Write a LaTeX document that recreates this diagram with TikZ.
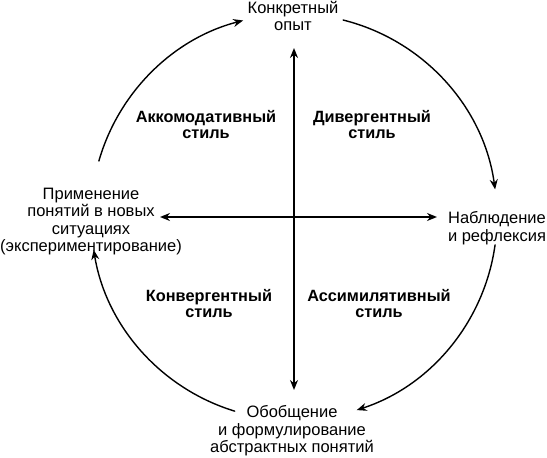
\documentclass[tikz,border=0pt]{standalone}
\usepackage{fontspec}
\setmainfont{Liberation Sans}
\usetikzlibrary{arrows.meta}
\begin{document}
\begin{tikzpicture}[x=1pt,y=1pt,line cap=round,line join=round,
  lbl/.style={align=center,font=\fontsize{16.5}{17.5}\selectfont,inner sep=0pt},
  stl/.style={align=center,font=\fontsize{16.3}{16}\selectfont\bfseries,inner sep=0pt},
  cyc/.style={line width=1.4pt,-{Stealth[length=10pt,width=8pt]}},
  ax/.style={line width=1.6pt,{Stealth[length=10pt,width=8pt]}-{Stealth[length=10pt,width=8pt]}}]
\useasboundingbox (-294,-241) rectangle (253,217);
\def\r{203}
% poles of the cycle
\node[lbl] (konkr) at (-1,201) {Конкретный\\опыт};
\node[lbl] (nabl) at (203,-11) {Наблюдение\\и рефлексия};
\node[lbl] (obob) at (-2,-214) {Обобщение\\и формулирование\\абстрактных понятий};
\node[lbl] (prim) at (-203,-4.5) {Применение\\понятий в новых\\ситуациях\\(экспериментирование)};
% styles in the quadrants
\node[stl] (akk) at (-88,92) {Аккомодативный\\стиль};
\node[stl] (div) at (78,92) {Дивергентный\\стиль};
\node[stl] (konv) at (-85,-87) {Конвергентный\\стиль};
\node[stl] (ass) at (85,-87) {Ассимилятивный\\стиль};
% axes
\coordinate (up) at (0,169);\coordinate (dn) at (0,-173);
\coordinate (lf) at (-134,0);\coordinate (rt) at (143,0);
\draw[ax] (dn) -- (up);
\draw[ax] (lf) -- (rt);
% arcs of the cycle
\foreach \a/\b [count=\i] in {164/104.5,76/7.8,-7.9/-72,-107/-170.7}{
  \coordinate (c\i) at (\a:\r);
  \draw[cyc] (c\i) arc[start angle=\a,end angle=\b,radius=\r];}
\end{tikzpicture}
\end{document}
